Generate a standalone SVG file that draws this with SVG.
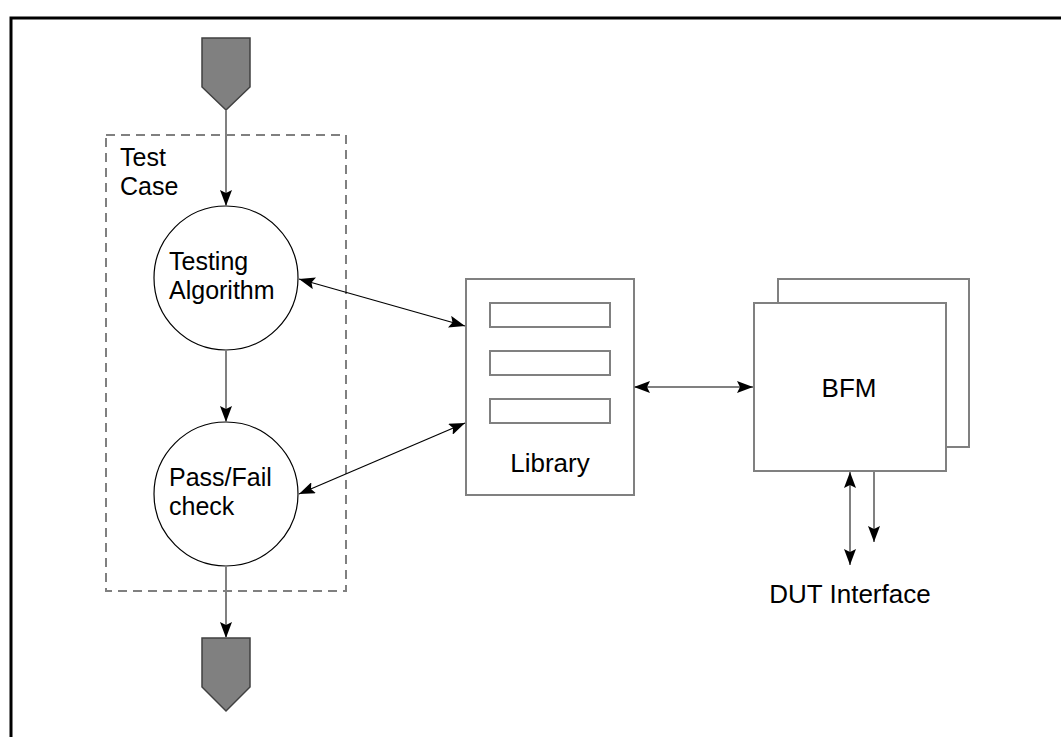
<svg xmlns="http://www.w3.org/2000/svg" width="1061" height="737" viewBox="0 0 1061 737">
  <style>
    .lbl { font-family: "Liberation Sans", Arial, sans-serif; font-size: 26px; fill: #000; }
    .two { font-size: 25px; }
    .box { fill: #fff; stroke: #808080; stroke-width: 2; }
    .bubble { fill: #fff; stroke: #000; stroke-width: 1.2; }
    .port { fill: #808080; stroke: #404040; stroke-width: 1.5; stroke-linejoin: miter; }
    .flow { fill: none; stroke: #808080; stroke-width: 2; }
    .link { fill: none; stroke: #000; stroke-width: 1.2; }
  </style>
  <defs>
    <marker id="head" markerUnits="userSpaceOnUse" markerWidth="18" markerHeight="12" refX="16" refY="6" orient="auto-start-reverse">
      <path d="M0,0 L16,6 L0,12 L3,6 z" fill="#000"/>
    </marker>
  </defs>

  <rect width="1061" height="737" fill="#fff"/>

  <!-- page frame -->
  <path d="M11,737 V18 H1061" fill="none" stroke="#000" stroke-width="3"/>

  <!-- test case boundary -->
  <g id="test-case">
    <rect x="106" y="135" width="240" height="456" fill="none" stroke="#808080" stroke-width="2" stroke-dasharray="9,6"/>
    <text class="lbl two" x="120" y="166">Test<tspan x="120" dy="29">Case</tspan></text>
  </g>

  <g id="entry">
    <polygon class="port" points="202,38 250,38 250,87 226,110 202,87"/>
  </g>

  <g id="exit">
    <polygon class="port" points="202,638 250,638 250,687 226,711 202,687"/>
  </g>

  <g id="testing-algorithm">
    <circle class="bubble" cx="226" cy="278" r="72"/>
    <text class="lbl two" x="169" y="270">Testing<tspan x="169" dy="29">Algorithm</tspan></text>
  </g>

  <g id="pass-fail">
    <circle class="bubble" cx="226" cy="494" r="72"/>
    <text class="lbl two" x="169" y="486">Pass/Fail<tspan x="169" dy="29">check</tspan></text>
  </g>

  <g id="library">
    <rect class="box" x="466" y="279" width="168" height="216"/>
    <rect class="box" x="490" y="303" width="120" height="24"/>
    <rect class="box" x="490" y="351" width="120" height="24"/>
    <rect class="box" x="490" y="399" width="120" height="24"/>
    <text class="lbl" x="550" y="472" text-anchor="middle">Library</text>
  </g>

  <g id="bfm">
    <rect class="box" x="778" y="279" width="191" height="168"/>
    <rect class="box" x="754" y="303" width="192" height="168"/>
    <text class="lbl" x="849" y="397" text-anchor="middle">BFM</text>
  </g>

  <g id="dut-interface">
    <text class="lbl" x="850" y="603" text-anchor="middle">DUT Interface</text>
  </g>

  <g id="connectors">
    <line class="flow" x1="226" y1="110" x2="226" y2="206" marker-end="url(#head)"/>
    <line class="flow" x1="226" y1="350" x2="226" y2="422" marker-end="url(#head)"/>
    <line class="flow" x1="226" y1="566" x2="226" y2="638" marker-end="url(#head)"/>
    <line class="link" x1="299" y1="279" x2="465" y2="326" marker-start="url(#head)" marker-end="url(#head)"/>
    <line class="link" x1="299" y1="494" x2="465" y2="423" marker-start="url(#head)" marker-end="url(#head)"/>
    <line class="flow" x1="634" y1="387" x2="753" y2="387" marker-start="url(#head)" marker-end="url(#head)"/>
    <line class="flow" x1="850" y1="472" x2="850" y2="565" marker-start="url(#head)" marker-end="url(#head)"/>
    <line class="flow" x1="874" y1="471" x2="874" y2="542" marker-end="url(#head)"/>
  </g>
</svg>
